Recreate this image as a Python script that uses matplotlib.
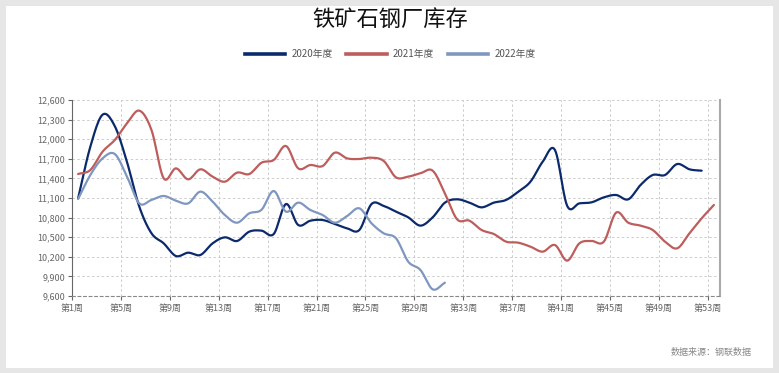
import matplotlib
matplotlib.use("Agg")
import matplotlib.pyplot as plt
from matplotlib.lines import Line2D
from matplotlib.patches import Rectangle
import numpy as np

plt.rcParams["font.family"] = ["Noto Sans CJK SC", "DejaVu Sans"]

TITLE = "铁矿石钢厂库存"
SOURCE = "数据来源：钢联数据"
SERIES_NAMES = ["2020年度", "2021年度", "2022年度"]
COLORS = ["#0b2a6c", "#bd5d5c", "#7f97c0"]

# weekly inventory, 10k tonnes
inv_2020 = [11095, 11886, 12375, 12200, 11650, 10970, 10560, 10406, 10212, 10263,
            10228, 10406, 10498, 10442, 10585, 10600, 10549, 11008, 10687, 10753,
            10763, 10702, 10636, 10610, 11008, 10978, 10891, 10804, 10677, 10804,
            11029, 11080, 11029, 10957, 11029, 11070, 11197, 11350, 11656, 11835,
            10980, 11018, 11034, 11110, 11146, 11080, 11299, 11452, 11452, 11620,
            11539, 11518]
inv_2021 = [11467, 11529, 11809, 11988, 12243, 12437, 12141, 11401, 11554, 11386,
            11539, 11427, 11350, 11488, 11467, 11640, 11682, 11896, 11554, 11605,
            11590, 11794, 11707, 11697, 11717, 11666, 11416, 11427, 11478, 11518,
            11171, 10773, 10753, 10610, 10549, 10432, 10416, 10355, 10279, 10380,
            10141, 10406, 10442, 10432, 10876, 10722, 10677, 10610, 10432, 10330,
            10559, 10789, 10993]
inv_2022 = [11085, 11452, 11707, 11773, 11427, 11018, 11070, 11131, 11059, 11018,
            11197, 11044, 10840, 10722, 10865, 10920, 11207, 10891, 11029, 10916,
            10840, 10722, 10824, 10942, 10712, 10559, 10483, 10126, 9998, 9702,
            9804]

tick_weeks = list(range(1, 54, 4))
tick_labels = [f"第{w}周" for w in tick_weeks]
y_ticks = list(range(9600, 12601, 300))


def smooth(x, y, n=12):
    # Catmull-Rom through the points, just for the rounded echarts look
    x = np.asarray(x, float)
    y = np.asarray(y, float)
    px = np.concatenate([[2 * x[0] - x[1]], x, [2 * x[-1] - x[-2]]])
    py = np.concatenate([[2 * y[0] - y[1]], y, [2 * y[-1] - y[-2]]])
    t = np.linspace(0, 1, n, endpoint=False)
    xs, ys = [], []
    for i in range(1, len(px) - 2):
        for p, out in ((px, xs), (py, ys)):
            p0, p1, p2, p3 = p[i - 1], p[i], p[i + 1], p[i + 2]
            out.extend(0.5 * (2 * p1 + (-p0 + p2) * t
                              + (2 * p0 - 5 * p1 + 4 * p2 - p3) * t ** 2
                              + (-p0 + 3 * p1 - 3 * p2 + p3) * t ** 3))
    xs.append(x[-1])
    ys.append(y[-1])
    return np.array(xs), np.array(ys)


fig = plt.figure(figsize=(7.79, 3.73), dpi=100)
fig.patch.set_facecolor("#e6e6e6")
fig.add_artist(Rectangle((6 / 779, 1 - 368 / 373), 767 / 779, 362 / 373,
                         transform=fig.transFigure, facecolor="white",
                         edgecolor="none", zorder=0))

ax = fig.add_axes([72 / 779, 1 - 296 / 373, 648 / 779, 196 / 373])
ax.set_facecolor("white")

for data, color in zip([inv_2020, inv_2021, inv_2022], COLORS):
    weeks = np.arange(1, len(data) + 1)
    sx, sy = smooth(weeks, data)
    ax.plot(sx, sy, color=color, linewidth=1.6, solid_capstyle="round", zorder=3)

ax.set_xlim(0.5, 53.5)
ax.set_ylim(9600, 12600)
ax.set_xticks([w - 0.5 for w in tick_weeks])
ax.set_xticklabels(tick_labels)
ax.set_yticks(y_ticks)
ax.set_yticklabels([f"{v:,}" for v in y_ticks])
ax.tick_params(axis="both", labelsize=6.5, colors="#666666", length=3, width=0.8)
ax.tick_params(axis="x", pad=3)
ax.tick_params(axis="y", pad=2)

ax.grid(True, color="#cccccc", linestyle=(0, (2.5, 2.5)), linewidth=0.7)
ax.set_axisbelow(True)
ax.spines["top"].set_visible(False)
ax.spines["left"].set_color("#666666")
ax.spines["left"].set_linewidth(0.8)
ax.spines["bottom"].set_color("#888888")
ax.spines["bottom"].set_linestyle((0, (2.5, 2.5)))
ax.spines["bottom"].set_linewidth(0.8)
ax.spines["right"].set_color("#aaaaaa")
ax.spines["right"].set_linewidth(1.5)

fig.text(390 / 779, 1 - 19 / 373, TITLE, ha="center", va="center",
         fontsize=16, color="#111111")

handles = [Line2D([0], [0], color=c, linewidth=2.6) for c in COLORS]
fig.legend(handles, SERIES_NAMES, loc="center", bbox_to_anchor=(390 / 779, 1 - 54 / 373),
           ncol=3, frameon=False, fontsize=7, labelcolor="#555555",
           handlelength=4.2, handletextpad=0.6, columnspacing=1.4)

fig.text(752 / 779, 1 - 352 / 373, SOURCE, ha="right", va="center",
         fontsize=6.5, color="#888888")

fig.savefig("out.png", dpi=100)
